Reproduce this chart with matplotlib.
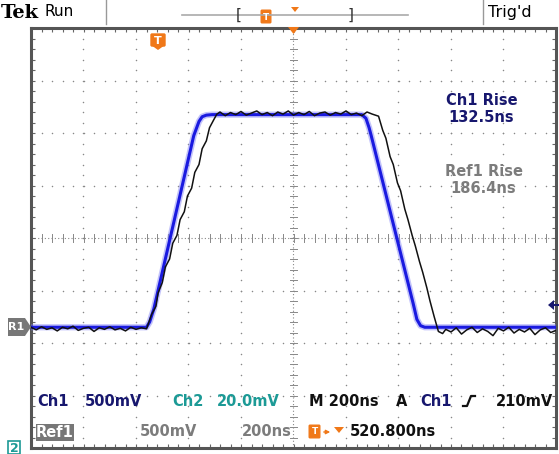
import matplotlib
matplotlib.use('Agg')
import matplotlib.pyplot as plt
from matplotlib.patches import Polygon, FancyBboxPatch, Rectangle
import numpy as np

W, H = 559, 454

# Ch1 (blue) trace, in divisions: time / level
ch1_t = [-5.0, -2.80, -2.74, -2.66, -1.90, -1.80, -1.74, -1.66, -1.55,
         1.30, 1.38, 1.44, 1.48, 2.28, 2.35, 2.42, 2.50, 5.0]
ch1_v = [-1.70, -1.70, -1.60, -1.35, 1.95, 2.22, 2.31, 2.34, 2.35,
         2.35, 2.28, 2.10, 1.95, -1.25, -1.55, -1.67, -1.70, -1.70]

# Ref1 (black) trace
ref_t = [-5.0, -4.9, -4.8, -4.7, -4.6, -4.5, -4.4, -4.3, -4.2, -4.1, -4.0,
         -3.9, -3.8, -3.7, -3.6, -3.5, -3.4, -3.3, -3.2, -3.1, -3.0, -2.9, -2.8,
         -2.70, -2.62, -2.58, -2.50, -2.44, -2.36, -2.30, -2.22, -2.16, -2.08,
         -2.02, -1.94, -1.88, -1.80, -1.74, -1.66, -1.60, -1.52, -1.46,
         -1.4, -1.3, -1.2, -1.1, -1.0, -0.9, -0.8, -0.7, -0.6, -0.5, -0.4,
         -0.3, -0.2, -0.1, 0.0, 0.1, 0.2, 0.3, 0.4, 0.5, 0.6, 0.7, 0.8, 0.9,
         1.0, 1.1, 1.2, 1.3, 1.4, 1.5, 1.62,
         1.70, 1.76, 1.84, 1.90, 1.98, 2.04, 2.12, 2.18, 2.26, 2.32, 2.40,
         2.46, 2.54, 2.60, 2.68, 2.76,
         2.84, 2.9, 3.0, 3.1, 3.2, 3.3, 3.4, 3.5, 3.6, 3.7, 3.8, 3.9, 4.0,
         4.1, 4.2, 4.3, 4.4, 4.5, 4.6, 4.7, 4.8, 4.9, 5.0]
ref_v = [-1.70, -1.75, -1.69, -1.74, -1.71, -1.77, -1.70, -1.73, -1.68, -1.76, -1.72,
         -1.70, -1.78, -1.71, -1.74, -1.69, -1.75, -1.72, -1.77, -1.70, -1.74, -1.71, -1.73,
         -1.45, -1.30, -1.05, -0.85, -0.55, -0.40, -0.10, 0.05, 0.35, 0.50,
         0.80, 0.95, 1.25, 1.40, 1.70, 1.85, 2.10, 2.25, 2.36,
         2.40, 2.33, 2.39, 2.35, 2.41, 2.34, 2.38, 2.42, 2.35, 2.39, 2.33,
         2.40, 2.36, 2.42, 2.34, 2.39, 2.35, 2.41, 2.33, 2.38, 2.40, 2.34, 2.39, 2.36,
         2.42, 2.35, 2.38, 2.33, 2.40, 2.36, 2.32,
         2.05, 1.90, 1.55, 1.40, 1.05, 0.90, 0.55, 0.35, 0.05, -0.15, -0.45,
         -0.65, -0.95, -1.20, -1.50, -1.78,
         -1.82, -1.74, -1.79, -1.71, -1.83, -1.75, -1.70, -1.80, -1.73, -1.78, -1.86, -1.72, -1.77,
         -1.70, -1.81, -1.74, -1.79, -1.72, -1.84, -1.75, -1.71, -1.80, -1.76]

navy = '#17176e'
teal = '#1c9a96'
grey = '#7c7c7c'
orange = '#f07818'

plt.rcParams['font.family'] = ['DejaVu Sans']
plt.rcParams['font.weight'] = 'bold'

fig = plt.figure(figsize=(W / 100, H / 100), dpi=100)
fig.patch.set_facecolor('white')

ax = fig.add_axes([31 / W, (H - 448) / H, 525 / W, 420 / H])
ax.set_xlim(-5, 5)
ax.set_ylim(-4, 4)
for s in ax.spines.values():
    s.set_color('#555555')
    s.set_linewidth(2.2)
ax.set_xticks([])
ax.set_yticks([])
ax.set_xticks(np.arange(-5, 5.01, 0.2), minor=True)
ax.set_yticks(np.arange(-4, 4.01, 0.2), minor=True)
ax.tick_params(which='minor', direction='in', length=3, width=0.8, color='#666666',
               top=True, right=True, labelbottom=False, labelleft=False)

# dotted graticule
steps_x = np.arange(-5, 5.01, 0.2)
steps_y = np.arange(-4, 4.01, 0.2)
for k in range(-4, 5):
    if k != 0:
        ax.scatter(np.full(len(steps_y), k), steps_y, s=1.2, c='#888888', lw=0, zorder=1)
for k in range(-3, 4):
    if k != 0:
        ax.scatter(steps_x, np.full(len(steps_x), k), s=1.2, c='#888888', lw=0, zorder=1)
ax.axhline(0, color='#888888', lw=0.8, ls=(0, (1, 2)), zorder=1)
ax.axvline(0, color='#888888', lw=0.8, ls=(0, (1, 2)), zorder=1)
for x in steps_x:
    ax.plot([x, x], [-0.07, 0.07], color='#888888', lw=0.7, zorder=1)
for y in steps_y:
    ax.plot([-0.07, 0.07], [y, y], color='#888888', lw=0.7, zorder=1)

# traces
ax.plot(ch1_t, ch1_v, color='#7a7af5', lw=4.5, alpha=0.45, solid_joinstyle='round', zorder=3)
ax.plot(ch1_t, ch1_v, color='#1a1ae0', lw=2.2, solid_joinstyle='round', zorder=4)
ax.plot(ref_t, ref_v, color='#111111', lw=1.1, zorder=5)

# measurement readouts
fs = 10.5
ax.text(3.58, 2.62, 'Ch1 Rise', color=navy, fontsize=fs, ha='center', va='center')
ax.text(3.58, 2.30, '132.5ns', color=navy, fontsize=fs, ha='center', va='center')
ax.text(3.62, 1.26, 'Ref1 Rise', color=grey, fontsize=fs, ha='center', va='center')
ax.text(3.62, 0.94, '186.4ns', color=grey, fontsize=fs, ha='center', va='center')

# overlay in screen pixels for the scope chrome
ov = fig.add_axes([0, 0, 1, 1], zorder=10)
ov.set_xlim(0, W)
ov.set_ylim(H, 0)
ov.axis('off')
ov.patch.set_alpha(0)

ov.text(1, 13, 'Tek', fontsize=14, fontweight='bold', family='DejaVu Serif', va='center')
ov.text(45, 12, 'Run', fontsize=11, va='center', fontweight='normal')
ov.plot([106, 106], [0, 24], color='#999999', lw=1)
ov.plot([483, 483], [0, 24], color='#999999', lw=1)
ov.text(488, 13, "Trig'd", fontsize=11.5, va='center', fontweight='normal')
ov.plot([182, 408], [15, 15], color='#aaaaaa', lw=1.2)
ov.text(239, 15, '[', fontsize=11, va='center', ha='center', color='#333333', fontweight='normal')
ov.text(351, 15, ']', fontsize=11, va='center', ha='center', color='#333333', fontweight='normal')
ov.add_patch(FancyBboxPatch((262, 11), 8, 11, boxstyle='round,pad=0.8', fc=orange, ec=orange))
ov.text(266, 17, 'T', fontsize=6.5, color='white', ha='center', va='center')
ov.add_patch(Polygon([[291, 7], [299, 7], [295, 12]], closed=True, fc=orange, ec='none'))
ov.add_patch(Polygon([[288, 27], [299, 27], [293.5, 34]], closed=True, fc=orange, ec='none'))

# trigger position marker inside the screen
ov.add_patch(FancyBboxPatch((152, 35), 12, 10, boxstyle='round,pad=1', fc=orange, ec=orange))
ov.add_patch(Polygon([[151, 45], [165, 45], [158, 50]], closed=True, fc=orange, ec='none'))
ov.text(158, 41.5, 'T', fontsize=8, color='white', ha='center', va='center')

# R1 ground marker and Ch1 trigger level arrow
ov.add_patch(Polygon([[8, 318], [25, 318], [31, 327], [25, 336], [8, 336]], closed=True,
                     fc='#777777', ec='none'))
ov.text(16.5, 327, 'R1', fontsize=8, color='white', ha='center', va='center')
ov.add_patch(Polygon([[548, 305], [554, 300], [554, 310]], closed=True, fc=navy, ec='none'))
ov.plot([553, 558], [305, 305], color=navy, lw=1.5)

# bottom readouts
ov.text(37, 401, 'Ch1', color=navy, fontsize=fs, va='center')
ov.text(85, 401, '500mV', color=navy, fontsize=fs, va='center')
ov.text(172, 401, 'Ch2', color=teal, fontsize=fs, va='center')
ov.text(217, 401, '20.0mV', color=teal, fontsize=fs, va='center')
ov.text(309, 401, 'M 200ns', color='#111111', fontsize=fs, va='center')
ov.text(396, 401, 'A', color='#111111', fontsize=fs, va='center')
ov.text(420, 401, 'Ch1', color=navy, fontsize=fs, va='center')
ov.plot([463, 467, 471, 475], [406, 406, 396, 396], color='#111111', lw=1.6)
ov.text(496, 401, '210mV', color='#111111', fontsize=fs, va='center')

ov.add_patch(Rectangle((36, 424), 38, 17, fc='#777777', ec='none'))
ov.text(55, 432.5, 'Ref1', color='white', fontsize=fs, va='center', ha='center')
ov.text(140, 432, '500mV', color=grey, fontsize=fs, va='center')
ov.text(242, 432, '200ns', color=grey, fontsize=fs, va='center')
ov.add_patch(FancyBboxPatch((310, 426), 9, 11, boxstyle='round,pad=0.8', fc=orange, ec=orange))
ov.text(314.5, 431.5, 'T', fontsize=6.5, color='white', ha='center', va='center')
ov.annotate('', xy=(333, 432), xytext=(321, 432),
            arrowprops=dict(arrowstyle='-|>', color=orange, lw=1, mutation_scale=6))
ov.add_patch(Polygon([[334, 427], [344, 427], [339, 433]], closed=True, fc=orange, ec='none'))
ov.text(350, 432, '520.800ns', color='#111111', fontsize=fs, va='center')

ov.add_patch(Rectangle((8, 441), 12, 13, fc='white', ec=teal, lw=1.2))
ov.text(14, 448, '2', color=teal, fontsize=9, ha='center', va='center')

fig.savefig('out.png', dpi=100)
